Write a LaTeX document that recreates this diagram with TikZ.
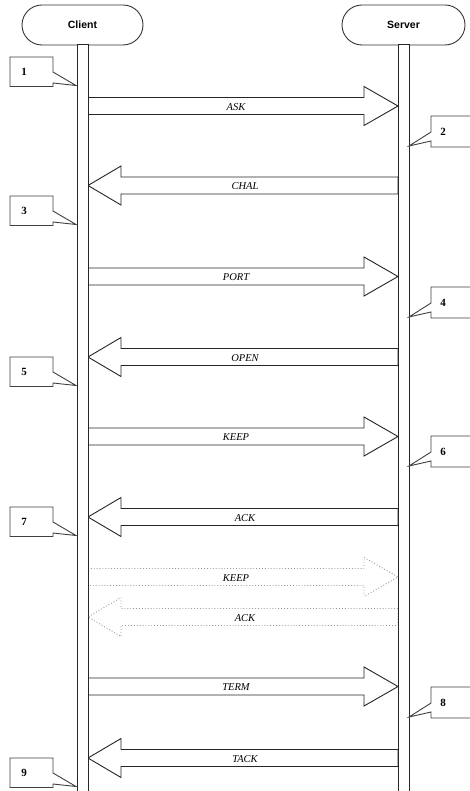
\documentclass[tikz,border=0pt]{standalone}
\usepackage{fontspec}
\setmainfont{Liberation Serif}
\newfontfamily\hdrfont{Liberation Sans}
\tikzset{
  pill/.style={draw=black!80, line width=0.9pt, rounded corners=20pt, fill=white},
  lifebar/.style={draw=black!85, line width=1pt, fill=white},
  blockarrow/.style={draw=black!85, line width=0.9pt, fill=white},
  ghostarrow/.style={draw=black!40, line width=0.9pt, dotted, fill=white},
  msglabel/.style={font=\fontsize{10.5}{11}\selectfont\itshape, inner sep=0pt},
  hdrlabel/.style={font=\hdrfont\bfseries\fontsize{10.5}{12}\selectfont, inner sep=0pt},
  callout/.style={draw=black!75, line width=0.9pt, fill=white},
  numlabel/.style={font=\bfseries\fontsize{11}{12}\selectfont, inner sep=0pt},
}
\newcommand\myRarrow[4]{% style, center y, label, name
  \draw[#1] (88,#2-8.5) -- (364,#2-8.5) -- (364,#2-19.5) -- (398,#2) -- (364,#2+19.5) -- (364,#2+8.5) -- (88,#2+8.5) -- cycle;
  \node[msglabel] (#4) at (236,#2+1) {#3};}
\newcommand\myLarrow[4]{%
  \draw[#1] (398,#2-8.5) -- (121,#2-8.5) -- (121,#2-19.5) -- (88,#2) -- (121,#2+19.5) -- (121,#2+8.5) -- (398,#2+8.5) -- cycle;
  \node[msglabel] (#4) at (245,#2+1) {#3};}
\newcommand\myLcallout[3]{% top, text, name
  \draw[callout] (10,#1) -- (53,#1) -- (53,#1+15) -- (76,#1+28.5) -- (53,#1+26) -- (53,#1+29.5) -- (10,#1+29.5) -- cycle;
  \node[numlabel] (#3) at (24,#1+15) {#2};}
\newcommand\myRcallout[3]{%
  \draw[callout] (485,#1) -- (431,#1) -- (431,#1+16) -- (409,#1+30) -- (431,#1+25) -- (431,#1+31) -- (485,#1+31);
  \node[numlabel] (#3) at (443,#1+16) {#2};}
\begin{document}
\begin{tikzpicture}[x=1pt,y=-1pt]
\useasboundingbox (0,0) rectangle (469,791);
\fill[white] (0,0) rectangle (469,791);
% headers
\draw[pill] (22,5) rectangle (143,45);
\node[hdrlabel] (client) at (82.5,25) {Client};
\draw[pill] (342,5) rectangle (465,45);
\node[hdrlabel] (server) at (403.5,25) {Server};
% messages
\myRarrow{blockarrow}{106}{ASK}{mASK}
\myLarrow{blockarrow}{185.5}{CHAL}{mCHAL}
\myRarrow{blockarrow}{276.5}{PORT}{mPORT}
\myLarrow{blockarrow}{357}{OPEN}{mOPEN}
\myRarrow{blockarrow}{436.5}{KEEP}{mKEEP}
\myLarrow{blockarrow}{517}{ACK}{mACK}
\myRarrow{ghostarrow}{577}{KEEP}{mKEEPb}
\myLarrow{ghostarrow}{617}{ACK}{mACKb}
\myRarrow{blockarrow}{686.5}{TERM}{mTERM}
\myLarrow{blockarrow}{758}{TACK}{mTACK}
% lifelines
\draw[lifebar] (77,45) rectangle (88,795);
\draw[lifebar] (398,45) rectangle (409,795);
% callouts
\myLcallout{57}{1}{c1}
\myLcallout{196}{3}{c3}
\myLcallout{357}{5}{c5}
\myLcallout{507}{7}{c7}
\myLcallout{758}{9}{c9}
\myRcallout{116}{2}{c2}
\myRcallout{287}{4}{c4}
\myRcallout{436}{6}{c6}
\myRcallout{687}{8}{c8}
\end{tikzpicture}
\end{document}
